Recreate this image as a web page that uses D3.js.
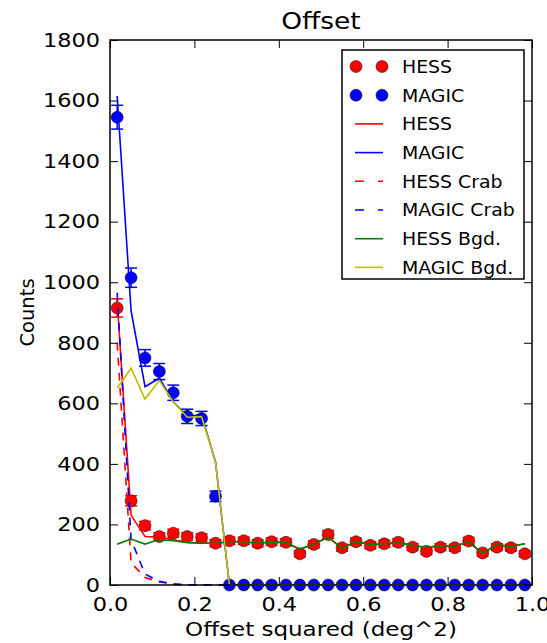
<!DOCTYPE html>
<html>
<head>
<meta charset="utf-8">
<script src="https://cdn.jsdelivr.net/npm/d3@7"></script>
<style>
  html, body { margin: 0; padding: 0; background: #fff; }
  svg { display: block; font-family: "DejaVu Sans", sans-serif; }
</style>
</head>
<body>
<svg id="chart" width="547" height="643"></svg>
<script>
"use strict";

// bin centres of offset^2 (deg^2)
var offsetBins = [0.017, 0.050, 0.083, 0.117, 0.150, 0.183, 0.217, 0.250, 0.283, 0.317,
                  0.350, 0.383, 0.417, 0.450, 0.483, 0.517, 0.550, 0.583, 0.617, 0.650,
                  0.683, 0.717, 0.750, 0.783, 0.817, 0.850, 0.883, 0.917, 0.950, 0.983];

var hessCounts = [915, 278, 196, 160, 171, 160, 156, 138, 146, 146, 138, 143, 141, 103, 134,
                  167, 123, 143, 131, 136, 141, 125, 111, 125, 123, 145, 106, 125, 123, 103];
var magicCounts = [1545, 1015, 750, 705, 635, 557, 550, 293, 0, 0, 0, 0, 0, 0, 0,
                   0, 0, 0, 0, 0, 0, 0, 0, 0, 0, 0, 0, 0, 0, 0];

var hessModel = [940, 230, 160, 158, 149, 141, 138, 138, 143, 143, 138, 142, 140, 118, 135,
                 158, 121, 144, 133, 136, 139, 131, 124, 130, 128, 142, 105, 133, 127, 136];
var magicModel = [1615, 905, 655, 683, 605, 558, 561, 407, 0, 0, 0, 0, 0, 0, 0,
                  0, 0, 0, 0, 0, 0, 0, 0, 0, 0, 0, 0, 0, 0, 0];
var hessCrab = [800, 73, 25, 10, 3, 1, 0, 0, 0, 0, 0, 0, 0, 0, 0,
                0, 0, 0, 0, 0, 0, 0, 0, 0, 0, 0, 0, 0, 0, 0];
var magicCrab = [965, 150, 36, 12, 3, 1, 0, 0, 0, 0, 0, 0, 0, 0, 0,
                 0, 0, 0, 0, 0, 0, 0, 0, 0, 0, 0, 0, 0, 0, 0];
var hessBgd = [135, 152, 135, 150, 146, 140, 138, 138, 143, 143, 138, 142, 140, 118, 135,
               158, 121, 144, 133, 136, 139, 131, 124, 130, 128, 142, 105, 133, 127, 136];
var magicBgd = [650, 716, 614, 675, 605, 554, 556, 407, 0, 0, 0, 0, 0, 0, 0,
                0, 0, 0, 0, 0, 0, 0, 0, 0, 0, 0, 0, 0, 0, 0];

var xTicks = [0.0, 0.2, 0.4, 0.6, 0.8, 1.0];
var yTicks = [0, 200, 400, 600, 800, 1000, 1200, 1400, 1600, 1800];

var RED = "#ff0000", BLUE = "#0000ff", GREEN = "#008000", YELLOW = "#bfbf00";
var TEXT_STRETCH = 1.15;

var margin = { top: 40, right: 15, bottom: 58, left: 110 };
var svg = d3.select("#chart");
var width = +svg.attr("width") - margin.left - margin.right;
var height = +svg.attr("height") - margin.top - margin.bottom;

var x = d3.scaleLinear().domain([0, 1]).range([0, width]);
var y = d3.scaleLinear().domain([0, 1800]).range([height, 0]);

var g = svg.append("g").attr("transform", "translate(" + margin.left + "," + margin.top + ")");

// the reference text is a bit wider than DejaVu, stretch it horizontally
function stretchText(sel, sx) {
  sel.each(function() {
    var t = d3.select(this);
    var tx = +(t.attr("x") || 0);
    t.attr("x", tx / sx).attr("transform", "scale(" + sx + ",1)");
  });
}

var points = [
  { counts: hessCounts, color: RED },
  { counts: magicCounts, color: BLUE }
];

points.forEach(function(p) {
  var grp = g.append("g").attr("stroke", p.color).attr("stroke-width", 1.5);
  p.counts.forEach(function(d, i) {
    var err = Math.sqrt(d);
    if (err === 0) return;
    var cx = x(offsetBins[i]);
    grp.append("line").attr("x1", cx).attr("x2", cx).attr("y1", y(d - err)).attr("y2", y(d + err));
    grp.append("line").attr("x1", cx - 6).attr("x2", cx + 6).attr("y1", y(d - err)).attr("y2", y(d - err));
    grp.append("line").attr("x1", cx - 6).attr("x2", cx + 6).attr("y1", y(d + err)).attr("y2", y(d + err));
  });
  g.append("g").selectAll("circle")
    .data(p.counts)
    .enter()
    .append("circle")
    .attr("cx", function(d, i) { return x(offsetBins[i]); })
    .attr("cy", function(d) { return y(d); })
    .attr("r", 6)
    .attr("fill", p.color)
    .attr("stroke", "#000")
    .attr("stroke-width", 0.5);
});

var curves = [
  { values: hessModel, color: RED, dash: null },
  { values: magicModel, color: BLUE, dash: null },
  { values: hessCrab, color: RED, dash: "8,7" },
  { values: magicCrab, color: BLUE, dash: "8,7" },
  { values: hessBgd, color: GREEN, dash: null },
  { values: magicBgd, color: YELLOW, dash: null }
];

var line = d3.line()
  .x(function(d, i) { return x(offsetBins[i]); })
  .y(function(d) { return y(d); });

curves.forEach(function(c) {
  g.append("path")
    .attr("d", line(c.values))
    .attr("fill", "none")
    .attr("stroke", c.color)
    .attr("stroke-width", 1.6)
    .attr("stroke-dasharray", c.dash);
});

// axes: ticks point inwards on all four sides
var bottomAxis = g.append("g").attr("transform", "translate(0," + height + ")")
  .call(d3.axisBottom(x).tickValues(xTicks).tickFormat(d3.format(".1f")).tickSize(-8).tickSizeOuter(0).tickPadding(12));
var leftAxis = g.append("g")
  .call(d3.axisLeft(y).tickValues(yTicks).tickFormat(d3.format("d")).tickSize(-8).tickSizeOuter(0).tickPadding(10));
g.append("g")
  .call(d3.axisTop(x).tickValues(xTicks).tickFormat("").tickSize(-8).tickSizeOuter(0));
g.append("g").attr("transform", "translate(" + width + ",0)")
  .call(d3.axisRight(y).tickValues(yTicks).tickFormat("").tickSize(-8).tickSizeOuter(0));

g.selectAll(".domain").remove();
g.selectAll(".tick line").attr("stroke", "#000").attr("stroke-width", 1);
[bottomAxis, leftAxis].forEach(function(ax) {
  ax.selectAll("text")
    .attr("font-size", 19.5)
    .attr("font-family", "DejaVu Sans")
    .attr("fill", "#000");
  stretchText(ax.selectAll("text"), TEXT_STRETCH);
});

g.append("rect")
  .attr("width", width)
  .attr("height", height)
  .attr("fill", "none")
  .attr("stroke", "#000")
  .attr("stroke-width", 1.5);

// titles
var title = svg.append("text")
  .attr("x", margin.left + width / 2)
  .attr("y", 29)
  .attr("text-anchor", "middle")
  .attr("font-size", 23)
  .text("Offset");
stretchText(title, TEXT_STRETCH);

var xLabel = svg.append("text")
  .attr("x", margin.left + width / 2)
  .attr("y", 636)
  .attr("text-anchor", "middle")
  .attr("font-size", 19.5)
  .text("Offset squared (deg^2)");
stretchText(xLabel, 1.18);

svg.append("text")
  .attr("transform", "translate(34," + (margin.top + height / 2) + ") rotate(-90)")
  .attr("text-anchor", "middle")
  .attr("font-size", 19.5)
  .text("Counts");

// legend
var legendItems = [
  { label: "HESS", color: RED, kind: "dots" },
  { label: "MAGIC", color: BLUE, kind: "dots" },
  { label: "HESS", color: RED, kind: "line" },
  { label: "MAGIC", color: BLUE, kind: "line" },
  { label: "HESS Crab", color: RED, kind: "dash" },
  { label: "MAGIC Crab", color: BLUE, kind: "dash" },
  { label: "HESS Bgd.", color: GREEN, kind: "line" },
  { label: "MAGIC Bgd.", color: YELLOW, kind: "line" }
];

var legend = svg.append("g").attr("transform", "translate(342,50)");
legend.append("rect")
  .attr("width", 182)
  .attr("height", 229)
  .attr("fill", "#fff")
  .attr("stroke", "#000")
  .attr("stroke-width", 1.5);

legendItems.forEach(function(item, i) {
  var row = legend.append("g").attr("transform", "translate(0," + (16.5 + i * 28.7) + ")");
  if (item.kind === "dots") {
    [14, 40].forEach(function(cx) {
      row.append("circle").attr("cx", cx).attr("cy", 0).attr("r", 6)
        .attr("fill", item.color).attr("stroke", "#000").attr("stroke-width", 0.5);
    });
  } else {
    row.append("line")
      .attr("x1", 13).attr("x2", 41).attr("y1", 0).attr("y2", 0)
      .attr("stroke", item.color)
      .attr("stroke-width", 1.6)
      .attr("stroke-dasharray", item.kind === "dash" ? "9,14" : null);
  }
  var t = row.append("text")
    .attr("x", 60)
    .attr("dy", "0.36em")
    .attr("font-size", 18)
    .text(item.label);
  stretchText(t, 1.05);
});
</script>
</body>
</html>
